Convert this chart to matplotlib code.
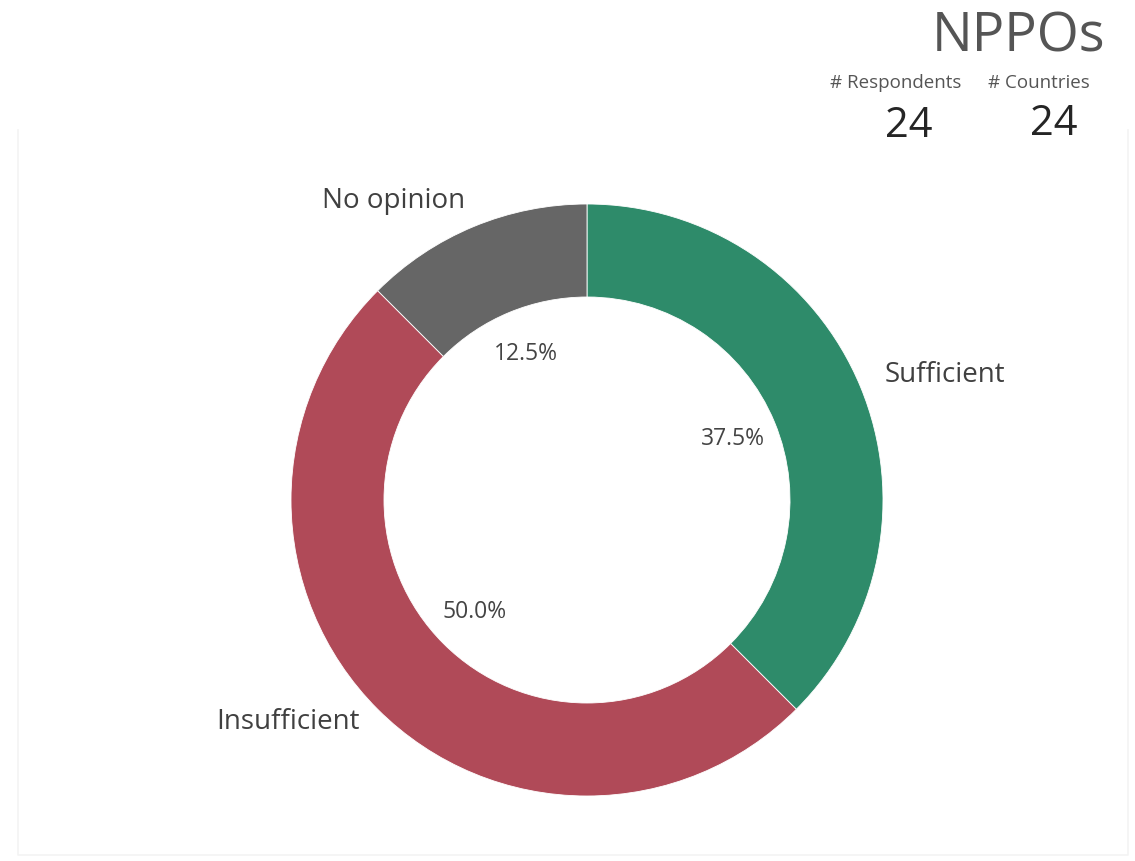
import numpy as np
import matplotlib.pyplot as plt
from matplotlib.patches import Rectangle

plt.rcParams['font.family'] = ['Open Sans', 'DejaVu Sans']

# data
categories = ["Sufficient", "Insufficient", "No opinion"]
shares = [37.5, 50.0, 12.5]
colors = ["#2E8B6A", "#B04A58", "#666666"]
respondents = 24
countries = 24

W, H = 1135, 861
fig = plt.figure(figsize=(W / 100, H / 100), dpi=100)
ax = fig.add_axes([0, 0, 1, 1])
ax.set_xlim(0, W)
ax.set_ylim(0, H)
ax.set_aspect("equal")
ax.axis("off")

# faint frame around the visual (top hidden behind header area)
ax.plot([18, 18, 1128, 1128], [H - 130, 6, 6, H - 130], color="#f3f3f3", lw=1.2)

cx, cy, r = 587, H - 500, 296
wedges, texts, autotexts = ax.pie(
    shares, colors=colors, startangle=90, counterclock=False,
    center=(cx, cy), radius=r, frame=True,
    wedgeprops=dict(width=93, edgecolor="white", linewidth=0.6),
    autopct="%.1f%%", pctdistance=0.535,
    labels=categories, labeldistance=1.1,
    textprops=dict(fontsize=16.5, color="#444444"),
)
ax.set_xlim(0, W)
ax.set_ylim(0, H)
ax.axis("off")

# outer category labels, pushed out like the source visual
label_pos = [(885, H - 375, "left"), (360, H - 722, "right"), (465, H - 201, "right")]
for t, (x, y, ha) in zip(texts, label_pos):
    t.set_position((x, y))
    t.set_ha(ha)
    t.set_va("center")
    t.set_fontsize(20)
    t.set_color("#404040")

# header card
fig.text(1105 / W, 1 - 37 / H, "NPPOs", fontsize=39, color="#555555", ha="right", va="center")
fig.text(896 / W, 1 - 83 / H, "# Respondents", fontsize=13.5, color="#555555", ha="center", va="center")
fig.text(1039 / W, 1 - 83 / H, "# Countries", fontsize=13.5, color="#555555", ha="center", va="center")
fig.text(909 / W, 1 - 126 / H, str(respondents), fontsize=30, color="#252525", ha="center", va="center")
fig.text(1054 / W, 1 - 124 / H, str(countries), fontsize=30, color="#252525", ha="center", va="center")

fig.savefig("out.png", dpi=100)
